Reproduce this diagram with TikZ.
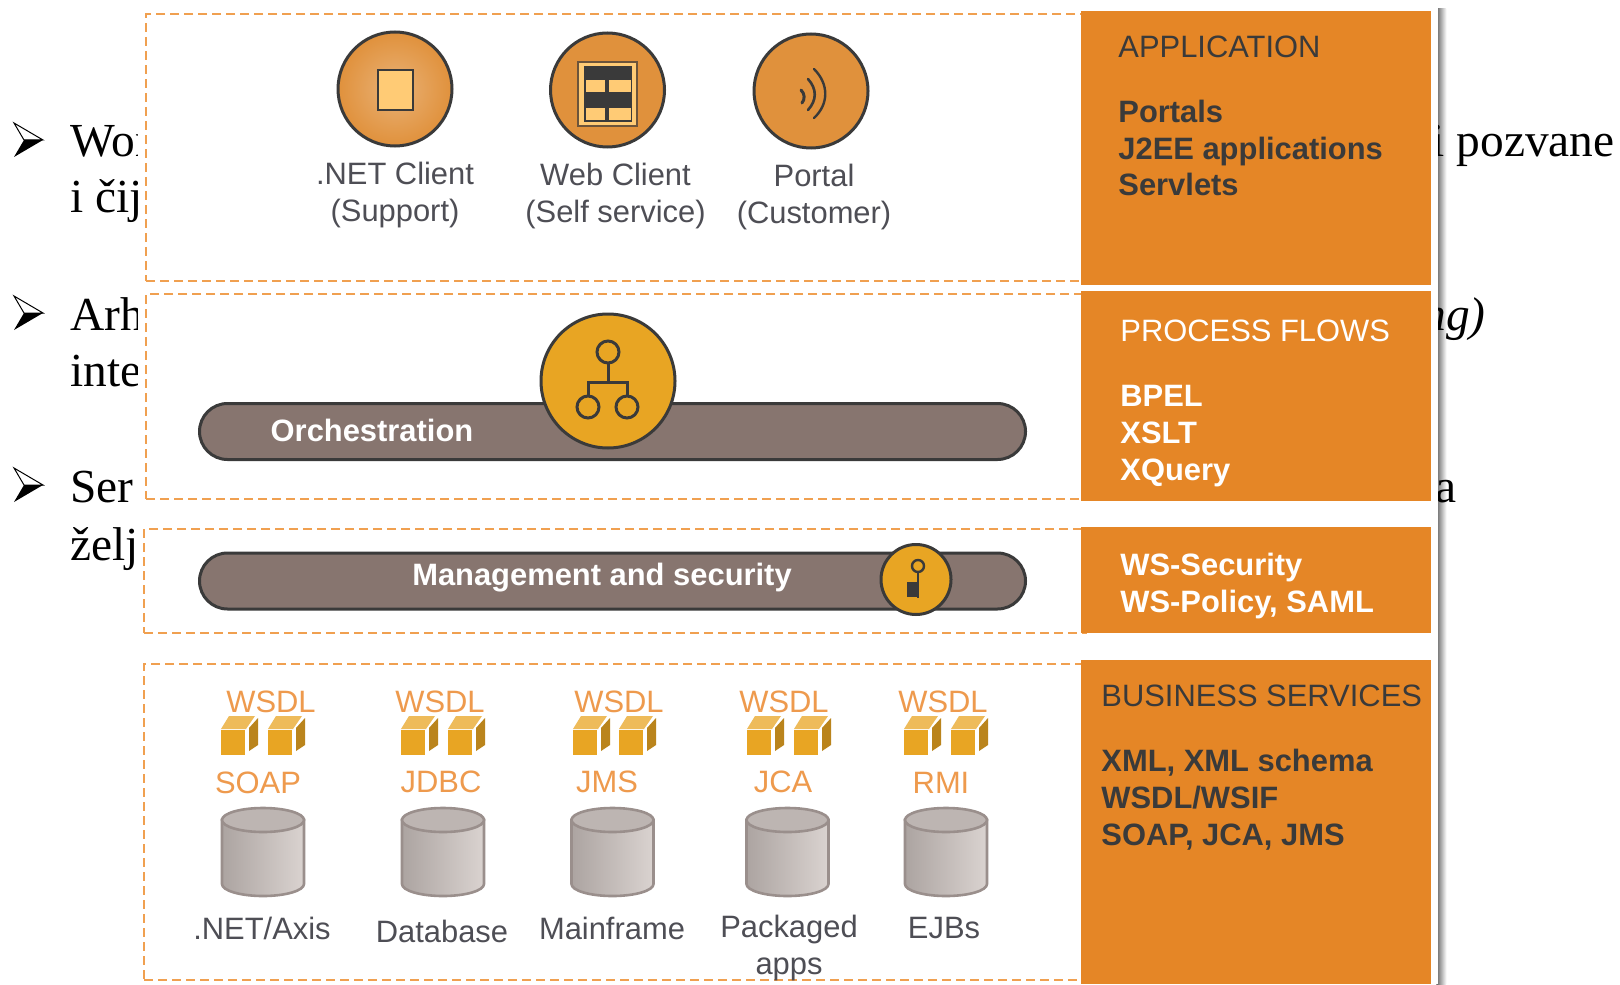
\documentclass[tikz,border=0pt]{standalone}
\usepackage{fontspec}
\setmainfont{Liberation Serif}
\setsansfont{Liberation Sans}
\usetikzlibrary{calc,
shapes.misc,
shapes.geometric,
positioning}

\definecolor{panel_orange}{HTML}{E58626}
\definecolor{icon_orange}{HTML}{E0913C}
\definecolor{icon_gold}{HTML}{E8A523}
\definecolor{icon_light}{HTML}{FFCB75}
\definecolor{icon_dark}{HTML}{3A3A3A}
\definecolor{bar_brown}{HTML}{87756F}
\definecolor{dash_orange}{HTML}{F0A050}
\definecolor{label_orange}{HTML}{EE9A4D}
\definecolor{label_grey}{HTML}{4E4E55}
\definecolor{db_edge}{HTML}{9A8F8C}
\definecolor{db_dark}{HTML}{ACA4A1}
\definecolor{db_light}{HTML}{DAD3D0}
\definecolor{db_top}{HTML}{BDB5B2}

\tikzset{
    bulletmark/.pic={
        \draw [black, line width = 0.5pt, fill = white] (29,17) -- (0,0) -- (10,17) -- cycle;
        \fill [black] (29,17) -- (10,17) -- (0,34) -- cycle;
    },
    cubeicon/.pic={
        % origin is the upper left corner of the front face
        \fill [icon_gold] (0,0) rectangle (24,25);
        \fill [icon_gold!75!white] (0,-1) -- (8,-14) -- (34,-14) -- (25,-1) -- cycle;
        \fill [icon_gold!80!black] (28,-2) -- (37,-12) -- (37,15) -- (28,21) -- cycle;
    },
    dbicon/.pic={
        \draw [db_edge, line width = 1.3pt, left color = db_dark, right color = db_light]
            (-41,-32) -- (-41,32) arc [start angle = 180, end angle = 0, x radius = 41, y radius = 12] -- (41,-32) -- cycle;
        \draw [db_edge, line width = 1.3pt, fill = db_top] (0,-32) ellipse (41 and 12);
    }
}

\begin{document}
\begin{tikzpicture} [x = 0.5pt,
        y = -0.5pt,
        body text/.style={inner sep = 0, anchor = base west, font = \fontsize{23.7}{28}\selectfont},
        sans label/.style={align = center, text = label_grey, font = \sffamily\fontsize{15.45}{18.3}\selectfont},
        layer box/.style={draw = dash_orange, dashed, line width = 1.2pt, dash pattern = on 4.5pt off 2.5pt, anchor = north west, inner sep = 0},
        side box/.style={fill = panel_orange, anchor = north west, minimum width = 175pt, inner sep = 0},
        side leg/.style={align = left, anchor = north west, inner sep = 0, font = \sffamily\fontsize{15.45}{18.4}\selectfont},
        client icon/.style={circle, draw = icon_dark, fill = icon_orange, line width = 1.5pt, minimum size = 57pt, inner sep = 0},
        gold icon/.style={circle, draw = icon_dark, fill = icon_gold, line width = 1.5pt, inner sep = 0},
        bus bar/.style={rounded rectangle, draw = icon_dark, fill = bar_brown, line width = 1.5pt, minimum width = 413pt, minimum height = 28pt, inner sep = 0},
        bar text/.style={text = white, font = \sffamily\bfseries\fontsize{15.45}{18}\selectfont},
        proto text/.style={text = label_orange, font = \sffamily\fontsize{15.45}{18}\selectfont}]

    \useasboundingbox (0,0) rectangle (1620,984);

    % slide text behind the picture
    \pic at (14,123) {bulletmark};
    \pic at (14,296) {bulletmark};
    \pic at (14,468) {bulletmark};
    \node [body text] (line_a) at (70,157) {Wor};
    \node [body text] (line_b) at (70,213) {i čij};
    \node [body text] (line_c) at (70,330) {Arh};
    \node [body text] (line_d) at (70,386) {inte};
    \node [body text] (line_e) at (70,502) {Ser};
    \node [body text] (line_f) at (70,560) {želj};

    % white sheet with its shadow
    \node [
        anchor = north west,
        left color = black!60!white,
        right color = white,
        minimum width = 5pt,
        minimum height = 488pt,
        inner sep = 0
    ] (sheet_shadow) at (1436,8) {};

    \node [body text, anchor = base east] (line_g) at (1615,157) {i pozvane};
    \node [body text, anchor = base east] (line_h) at (1486,330) {\itshape ng)};
    \node [body text, anchor = base east] (line_i) at (1457,502) {a};

    \node [
        anchor = north west,
        fill = white,
        minimum width = 650pt,
        minimum height = 492pt,
        inner sep = 0
    ] (sheet) at (138,0) {};

    % dashed layers
    \node [layer box, minimum width = 470pt, minimum height = 133.5pt] (app_layer) at (145,13) {};
    \node [layer box, minimum width = 470pt, minimum height = 102.5pt] (flow_layer) at (145,293) {};
    \node [layer box, minimum width = 471pt, minimum height = 52pt] (mgmt_layer) at (143,528) {};
    \node [layer box, minimum width = 471pt, minimum height = 158pt] (svc_layer) at (143,663) {};

    % orange side boxes
    \node [side box, minimum height = 137pt] (app_box) at (1081,11) {};
    \node [side box, minimum height = 105pt] (flow_box) at (1081,291) {};
    \node [side box, minimum height = 53pt] (mgmt_box) at (1081,527) {};
    \node [side box, minimum height = 162pt] (svc_box) at (1081,660) {};

    \node [side leg, text = icon_dark] (app_leg) at (1118,35.5)
        {APPLICATION\\[14pt]\bfseries Portals\\\bfseries J2EE applications\\\bfseries Servlets};
    \node [side leg, text = white] (flow_leg) at (1120,320)
        {PROCESS FLOWS\\[14pt]\bfseries BPEL\\\bfseries XSLT\\\bfseries XQuery};
    \node [side leg, text = white] (mgmt_leg) at (1120,553)
        {\bfseries WS-Security\\\bfseries WS-Policy, SAML};
    \node [side leg, text = icon_dark] (svc_leg) at (1101,685)
        {BUSINESS SERVICES\\[14pt]\bfseries XML, XML schema\\\bfseries WSDL/WSIF\\\bfseries SOAP, JCA, JMS};

    % clients
    \node [client icon, inner color = icon_orange!70!white, outer color = icon_orange] (net_icon) at (395,89) {};
    \node [client icon] (web_icon) at (607.5,90) {};
    \node [client icon] (portal_icon) at (811,91) {};

    \node [sans label, below = 4pt of net_icon] (net_leg) {.NET Client\\(Support)};
    \node [sans label, below = 4pt of web_icon, xshift = 4pt] (web_leg) {Web Client\\(Self service)};
    \node [sans label, below = 4pt of portal_icon, xshift = 1.5pt] (portal_leg) {Portal\\(Customer)};

    \draw [icon_dark, line width = 1pt, fill = icon_light] (378,70) rectangle (413,110);

    \draw [icon_dark!70!icon_orange, line width = 0.8pt, fill = icon_light] (578,62) rectangle (637,126);
    \fill [icon_dark] (584,66) rectangle (632,122);
    \fill [icon_light] (586,80) rectangle (605,92);
    \fill [icon_light] (609,80) rectangle (631,92);
    \fill [icon_light] (586,108) rectangle (605,120);
    \fill [icon_light] (609,108) rectangle (631,120);

    \draw [icon_dark, line width = 1.2pt, line cap = round] (814,69) .. controls (829,84) and (829,104) .. (814,118);
    \draw [icon_dark, line width = 1.3pt, line cap = round] (808,79) .. controls (817,89) and (817,100) .. (808,110);
    \draw [icon_dark, line width = 1.5pt, line cap = round] (801,90) .. controls (805,94) and (805,99) .. (802,103);

    % orchestration and management bars
    \node [bus bar] (orch_bar) at (612.5,431.5) {};
    \node [bar text] (orch_leg) at (372,430) {Orchestration};
    \node [gold icon, minimum size = 67pt] (orch_icon) at (608,381) {};

    \draw [icon_dark, line width = 1.5pt] (608,352) circle (11);
    \draw [icon_dark, line width = 1.5pt] (588,407) circle (11);
    \draw [icon_dark, line width = 1.5pt] (627,407) circle (11);
    \draw [icon_dark, line width = 1.5pt] (608,363) -- (608,382);
    \draw [icon_dark, line width = 1.5pt] (588,395) -- (588,382) -- (627,382) -- (627,395);

    \node [bus bar] (mgmt_bar) at (612.5,581) {};
    \node [bar text] (mgmt_text) at (602,578) {Management and security};
    \node [gold icon, minimum size = 35pt] (key_icon) at (916,579.5) {};

    \draw [icon_dark, line width = 1.2pt] (918,566) circle (6);
    \draw [icon_dark, line width = 1.4pt] (918,572) -- (918,598);
    \fill [icon_dark] (907,582) rectangle (919,597);

    % services
    \node [proto text] (wsdl_a) at (271,702) {WSDL};
    \node [proto text] (wsdl_b) at (440,702) {WSDL};
    \node [proto text] (wsdl_c) at (619,702) {WSDL};
    \node [proto text] (wsdl_d) at (784,702) {WSDL};
    \node [proto text] (wsdl_e) at (943,702) {WSDL};

    \pic at (221,730) {cubeicon};
    \pic at (268,730) {cubeicon};
    \pic at (401,730) {cubeicon};
    \pic at (448,730) {cubeicon};
    \pic at (573,730) {cubeicon};
    \pic at (619,730) {cubeicon};
    \pic at (747,730) {cubeicon};
    \pic at (794,730) {cubeicon};
    \pic at (904,730) {cubeicon};
    \pic at (951,730) {cubeicon};

    \node [proto text] (soap_leg) at (258,783) {SOAP};
    \node [proto text] (jdbc_leg) at (441,782) {JDBC};
    \node [proto text] (jms_leg) at (607,782) {JMS};
    \node [proto text] (jca_leg) at (783,782) {JCA};
    \node [proto text] (rmi_leg) at (941,783) {RMI};

    \pic at (263,852) {dbicon};
    \pic at (443,852) {dbicon};
    \pic at (612.5,852) {dbicon};
    \pic at (787.5,852) {dbicon};
    \pic at (946,852) {dbicon};

    \node [sans label] (axis_leg) at (262,928) {.NET/Axis};
    \node [sans label] (base_leg) at (442,931) {Database};
    \node [sans label] (main_leg) at (612,928) {Mainframe};
    \node [sans label] (pack_leg) at (789,948) {Packaged\\apps};
    \node [sans label] (ejb_leg) at (944,928) {EJBs};

\end{tikzpicture}
\end{document}
